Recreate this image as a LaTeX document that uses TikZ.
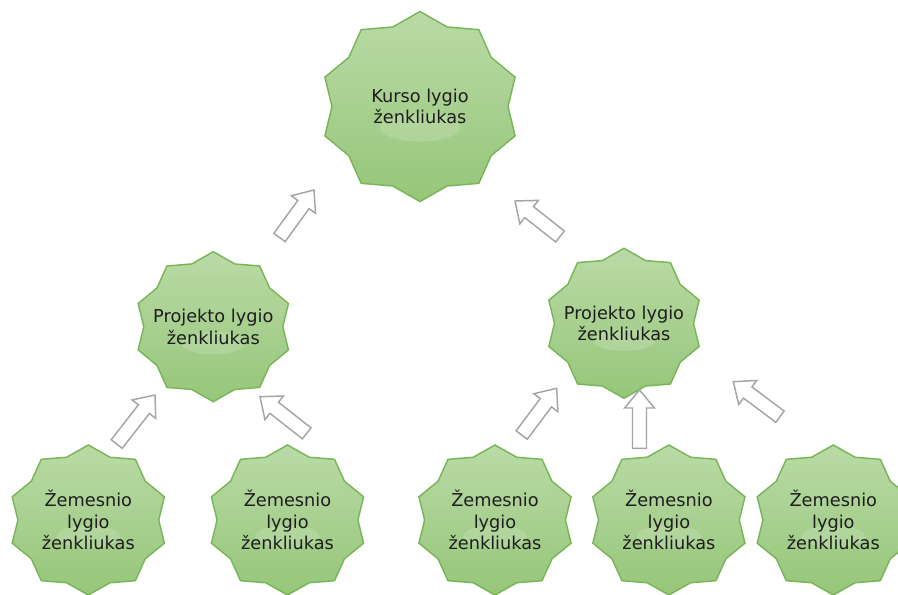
\documentclass[tikz,border=0pt]{standalone}
\usepackage{fontspec}
\setmainfont{DejaVu Sans}
\usetikzlibrary{calc}
\definecolor{starTop}{RGB}{186,218,166}
\definecolor{starBot}{RGB}{150,198,122}
\definecolor{starLine}{RGB}{122,182,88}
\definecolor{arrLine}{RGB}{165,165,165}
\definecolor{txt}{RGB}{30,30,30}
\tikzset{
 badgeshape/.style={top color=starTop, bottom color=starBot, draw=starLine, line width=1.1pt, line join=miter},
 badgetext/.style={align=center, text=txt, font=\fontsize{13.3}{16.2}\selectfont, inner sep=0pt},
 blockarr/.style={draw=arrLine, fill=white, line width=1.1pt, line join=miter},
 gloss/.style={fill=white, opacity=0.15}
}
% name, cx, cy, rx, ry, text
\newcommand\badge[6]{%
 \path[badgeshape] ({#2},{#3-#5}) \foreach \i in {1,...,19}{ -- ({#2+#4*(0.94+0.06*cos(180*\i))*cos(90+18*\i)},{#3-#5*(0.94+0.06*cos(180*\i))*sin(90+18*\i)}) } -- cycle;
 \fill[gloss] ({#2},{#3+0.22*#5}) ellipse [x radius={0.4*#4}, y radius={0.15*#5}];
 \node[badgetext] (#1) at (#2,#3) {#6};
}
% tail, tip
\newcommand\blockarrow[2]{%
 \coordinate (ba-n) at ($(#2)!13.5pt!(#1)$);
 \draw[blockarr] ($(#1)!5.25pt!90:(#2)$) -- ($(ba-n)!5.25pt!90:(#2)$) -- ($(ba-n)!11.25pt!90:(#2)$) -- (#2) -- ($(ba-n)!11.25pt!-90:(#2)$) -- ($(ba-n)!5.25pt!-90:(#2)$) -- ($(#1)!5.25pt!-90:(#2)$) -- cycle;
}
\begin{document}
\begin{tikzpicture}[x=0.75pt, y=-0.75pt]
\useasboundingbox (0,0) rectangle (898,595);
\clip (0,0) rectangle (898,595);

\badge{K}{420}{106.5}{100}{95}{Kurso lygio\\ženkliukas}
\badge{P1}{213.3}{326.7}{79}{75}{Projekto lygio\\ženkliukas}
\badge{P2}{624}{323.3}{79}{75}{Projekto lygio\\ženkliukas}
\badge{Z1}{88.3}{520}{80}{75}{Žemesnio\\lygio\\ženkliukas}
\badge{Z2}{287.5}{520}{80}{75}{Žemesnio\\lygio\\ženkliukas}
\badge{Z3}{495}{520}{80}{75}{Žemesnio\\lygio\\ženkliukas}
\badge{Z4}{668.9}{520}{80}{75}{Žemesnio\\lygio\\ženkliukas}
\badge{Z5}{833.3}{520}{80}{75}{Žemesnio\\lygio\\ženkliukas}

\coordinate (a1s) at (279.5,237.5); \coordinate (a1e) at (314,190);
\coordinate (a2s) at (560,236.5);   \coordinate (a2e) at (515,201);
\coordinate (a3s) at (116.7,444);   \coordinate (a3e) at (155,395);
\coordinate (a4s) at (306.7,433.3); \coordinate (a4e) at (260,396.7);
\coordinate (a5s) at (521.7,435);   \coordinate (a5e) at (556.7,388.3);
\coordinate (a6s) at (639.5,448.3); \coordinate (a6e) at (639.5,390);
\coordinate (a7s) at (780,416.7);   \coordinate (a7e) at (733.3,381.7);

\blockarrow{a1s}{a1e}
\blockarrow{a2s}{a2e}
\blockarrow{a3s}{a3e}
\blockarrow{a4s}{a4e}
\blockarrow{a5s}{a5e}
\blockarrow{a6s}{a6e}
\blockarrow{a7s}{a7e}
\end{tikzpicture}
\end{document}
